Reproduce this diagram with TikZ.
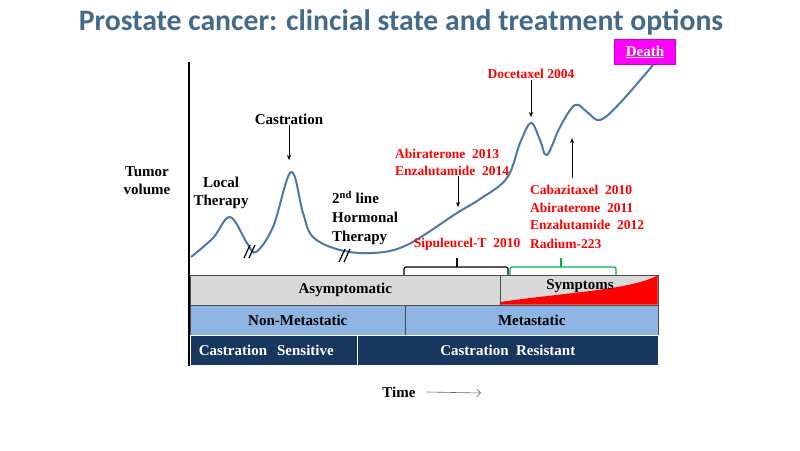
\documentclass[tikz,border=0pt]{standalone}
\usepackage{fontspec}
\setmainfont{Liberation Serif}
\newfontfamily\titlefont{Carlito}
\usetikzlibrary{arrows.meta}
\definecolor{titleblue}{RGB}{68,106,138}
\definecolor{curveblue}{RGB}{74,120,170}
\definecolor{asymgray}{RGB}{217,217,217}
\definecolor{metablue}{RGB}{141,180,226}
\definecolor{navy}{RGB}{23,55,94}
\definecolor{deathpink}{RGB}{255,0,255}
\definecolor{bracegreen}{RGB}{0,176,80}
\tikzset{
    lbl/.style={font=\bfseries\fontsize{15}{18}\selectfont, inner sep=1pt},
    drug/.style={font=\bfseries\fontsize{13.5}{17}\selectfont, text=red, inner sep=1pt},
    ptr/.style={-{Stealth[length=5pt,width=4pt]}, line width=0.6pt},
    cell/.style={anchor=north west, minimum height=30pt, inner sep=0pt,
        font=\bfseries\fontsize{15}{18}\selectfont, draw=black!70, line width=0.6pt},
}
\begin{document}
\begin{tikzpicture}[x=1pt, y=-1pt]
    \useasboundingbox (0,0) rectangle (800,450);
    \node[font=\titlefont\bfseries\fontsize{29.7}{32}\selectfont, text=titleblue] (title) at (401,22)
        {Prostate cancer: clincial state and treatment options};

    % axis and curve
    \draw[line width=2.5pt] (189,62) -- (189,366);
    \draw[curveblue, line width=2pt] plot[smooth, tension=0.6] coordinates {
        (191,257) (213,238) (230,217) (247,243) (256,252) (273,227) (291,172)
        (303,213) (313,237) (340,250) (373,253) (407,245) (457,213) (480,199)
        (507,178) (520,143) (531,123) (540,140) (547,155) (560,127) (575,105)
        (587,112) (600,120) (620,103) (653,65)};
    \coordinate (castrtip) at (289,160);
    \coordinate (docetip) at (531,117);
    \coordinate (abitip) at (458,207);
    \coordinate (upfoot) at (572,178);
    \coordinate (uptip) at (572,138);

    % breaks
    \draw[line width=1.2pt] (244,258) -- (250,245) (249,258) -- (255,245);
    \draw[line width=1.2pt] (339,262) -- (345,249) (344,262) -- (350,249);

    % black labels
    \node[lbl, align=center] (tumor) at (147,181) {Tumor\\volume};
    \node[lbl, align=center] (local) at (221,193) {Local\\Therapy};
    \node[lbl] (castr) at (289,119) {Castration};
    \node[lbl, align=left, anchor=west, font=\bfseries\fontsize{15}{19}\selectfont] (hormonal) at (331,218)
        {2\textsuperscript{nd} line\\Hormonal\\Therapy};
    \draw[ptr] (castr) -- (castrtip);

    % red labels
    \node[drug] (doce) at (531,74) {Docetaxel 2004};
    \node[drug, align=left, anchor=west] (abi) at (394,162) {Abiraterone\ \ 2013\\Enzalutamide\ \ 2014};
    \node[drug, anchor=west] (cabazi) at (529,190) {Cabazitaxel\ \ 2010};
    \node[drug, align=left, anchor=west] (abi2) at (529,216) {Abiraterone\ \ 2011\\Enzalutamide\ \ 2012};
    \node[drug, anchor=west] (radium) at (529,244) {Radium-223};
    \node[drug] (sipu) at (467,244) {Sipuleucel-T\ \ 2010};
    \draw[ptr] (doce) -- (docetip);
    \draw[ptr] (abi.south -| abitip) -- (abitip);
    \draw[ptr] (upfoot) -- (uptip);

    \node[fill=deathpink, draw=deathpink!80!black, line width=0.4pt, minimum width=61pt, minimum height=25pt,
        inner sep=0pt, text=white, font=\bfseries\fontsize{15}{18}\selectfont] (death) at (645,52) {\underline{Death}};

    % brackets
    \draw[line width=1.2pt, rounded corners=2pt] (404,276) |- (457,267) -| (508,276);
    \draw[line width=1.2pt] (457,267) -- (457,258);
    \draw[bracegreen, line width=1.2pt, rounded corners=2pt] (510,276) |- (561,267) -| (616,276);
    \draw[bracegreen, line width=1.2pt] (561,267) -- (561,258);

    % state bars
    \node[cell, fill=asymgray, minimum width=310pt] (asym) at (190,275) {Asymptomatic};
    \node[cell, fill=asymgray, minimum width=158pt] (sympt) at (500,275) {};
    \fill[red] (500.5,302) .. controls (560,293) and (632,290) .. (657.7,275.3) -- (657.7,304.7) -- (500.5,304.7) -- cycle;
    \node[lbl] (symptlbl) at (580,286) {Symptoms};
    \node[cell, fill=metablue, minimum width=215pt] (nonmeta) at (190,305) {Non-Metastatic};
    \node[cell, fill=metablue, minimum width=253pt] (meta) at (405,305) {Metastatic};
    \node[cell, fill=navy, draw=white, text=white, minimum width=167pt, text width=160pt, align=left]
        (sens) at (190,335) {\hspace*{5pt}Castration\ \ Sensitive};
    \node[cell, fill=navy, draw=white, text=white, minimum width=301pt] (resist) at (357,335) {Castration\ \ Resistant};

    % time
    \node[lbl] (time) at (399,392) {Time};
    \coordinate (timeend) at (481,393);
    \draw[gray!80!black, line width=0.6pt, -{Straight Barb[length=4pt]}] ([xshift=10pt]time.east) -- (timeend);
\end{tikzpicture}
\end{document}
